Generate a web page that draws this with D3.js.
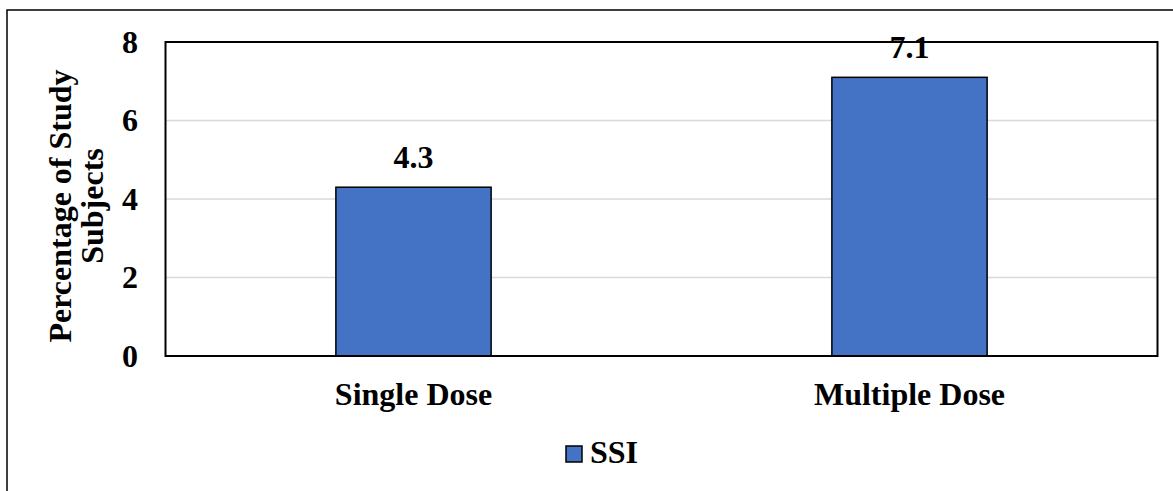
<!DOCTYPE html>
<html>
<head>
<meta charset="utf-8">
<script src="https://cdn.jsdelivr.net/npm/d3@7"></script>
<style>
	body { margin: 0; background: #fff; }
</style>
</head>
<body>
<div id="chart"></div>
<script>
// data
var categories = ['Single Dose', 'Multiple Dose'];
var values = [4.3, 7.1];
var yTicks = [0, 2, 4, 6, 8];
var seriesName = 'SSI';

// build canvas
var width = 1173,
	height = 491;

var svg = d3.select('#chart')
			.append('svg')
			.attr('width', width)
			.attr('height', height)
			.attr('font-family', "'Liberation Serif', 'Times New Roman', serif")
			.attr('font-weight', 'bold')
			.attr('font-size', 32);

// outer frame (runs off right & bottom edges)
svg.append('rect')
	.attr('x', 7).attr('y', 10)
	.attr('width', width).attr('height', height)
	.attr('fill', 'none')
	.attr('stroke', '#000')
	.attr('stroke-width', 1.5);

var plot = { left: 165.5, top: 42, right: 1157.5, bottom: 356 };

var x = d3.scaleBand()
		.domain(categories)
		.range([plot.left, plot.right])
		.paddingInner(0.687)
		.paddingOuter(0.3435);

var y = d3.scaleLinear()
		.domain([0, 8])
		.range([plot.bottom, plot.top]);

// gridlines
svg.append('g')
	.selectAll('line')
	.data(yTicks.slice(1, -1)).enter()
	.append('line')
	.attr('x1', plot.left).attr('x2', plot.right)
	.attr('y1', d => y(d)).attr('y2', d => y(d))
	.attr('stroke', '#d9d9d9')
	.attr('stroke-width', 1.5);

// y tick labels
svg.append('g')
	.selectAll('text')
	.data(yTicks).enter()
	.append('text')
	.attr('x', 138)
	.attr('y', d => y(d))
	.attr('dy', '0.33em')
	.attr('text-anchor', 'end')
	.text(d => d);

// bars
svg.append('g')
	.selectAll('rect')
	.data(values).enter()
	.append('rect')
	.attr('x', (d, i) => x(categories[i]))
	.attr('y', d => y(d))
	.attr('width', x.bandwidth())
	.attr('height', d => y(0) - y(d))
	.attr('fill', '#4472C4')
	.attr('stroke', '#000')
	.attr('stroke-width', 1.5);

// plot border
svg.append('rect')
	.attr('x', plot.left).attr('y', plot.top)
	.attr('width', plot.right - plot.left)
	.attr('height', plot.bottom - plot.top)
	.attr('fill', 'none')
	.attr('stroke', '#000')
	.attr('stroke-width', 2);

// value labels
svg.append('g')
	.selectAll('text')
	.data(values).enter()
	.append('text')
	.attr('x', (d, i) => x(categories[i]) + x.bandwidth() / 2)
	.attr('y', d => y(d) - 19)
	.attr('text-anchor', 'middle')
	.text(d => d.toFixed(1));

// x labels
svg.append('g')
	.selectAll('text')
	.data(categories).enter()
	.append('text')
	.attr('x', d => x(d) + x.bandwidth() / 2)
	.attr('y', 405)
	.attr('text-anchor', 'middle')
	.text(d => d);

// y axis title
var title = svg.append('text')
	.attr('transform', 'translate(71,206) rotate(-90)')
	.attr('text-anchor', 'middle');
title.append('tspan').attr('x', 0).attr('dy', 0).text('Percentage of Study');
title.append('tspan').attr('x', 0).attr('dy', 32).text('Subjects');

// legend
var legend = svg.append('g');
legend.append('rect')
	.attr('x', 566).attr('y', 446)
	.attr('width', 16).attr('height', 16)
	.attr('fill', '#4472C4')
	.attr('stroke', '#000')
	.attr('stroke-width', 1.5);
legend.append('text')
	.attr('x', 590)
	.attr('y', 463)
	.text(seriesName);
</script>
</body>
</html>
